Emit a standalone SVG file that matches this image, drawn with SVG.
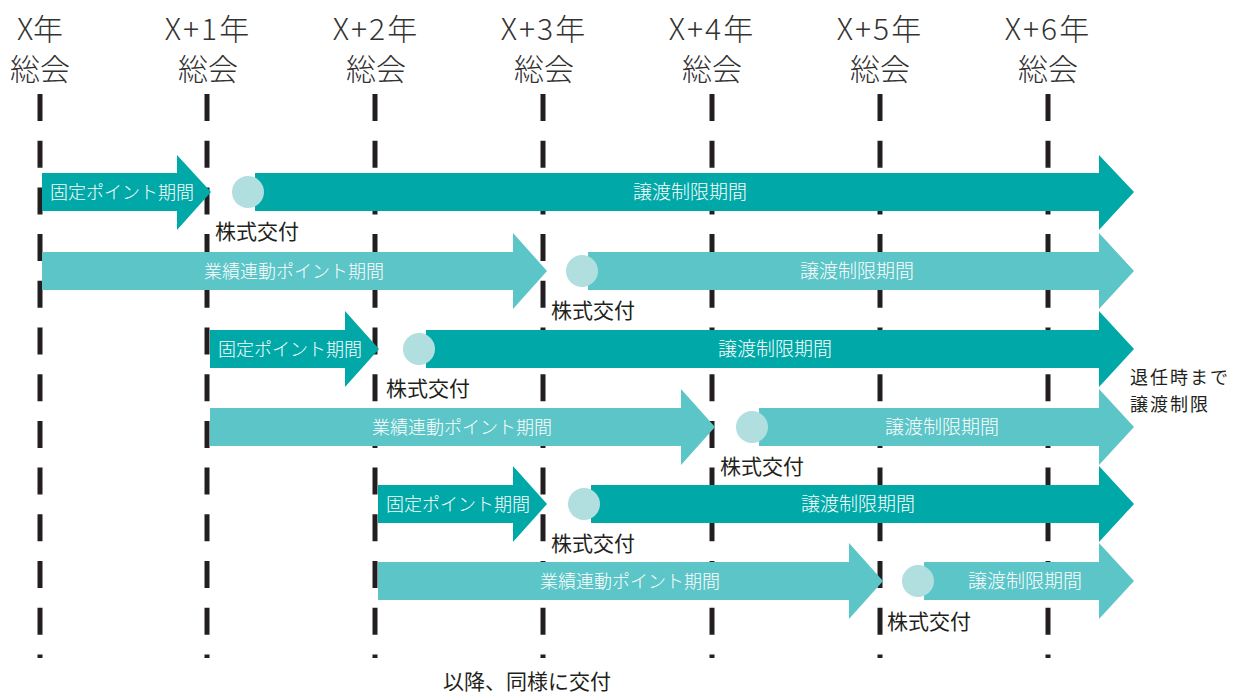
<svg xmlns="http://www.w3.org/2000/svg" width="1240" height="693" viewBox="0 0 1240 693">
<style>
text{font-family:"Noto Sans CJK JP","Noto Sans",sans-serif;font-weight:300;}
.hdr{font-size:30px;fill:#333;text-anchor:middle;}
.grid{stroke:#231f20;stroke-width:5;stroke-dasharray:27 19.7;fill:none;}
.dark{fill:#00a9a8;}
.light{fill:#5bc5c7;}
.dot{fill:#b1dedf;}
.in{font-size:18px;fill:#fff;}
.rs{font-size:19px;fill:#fff;text-anchor:middle;}
.lbl{font-size:21px;fill:#231f20;font-weight:400;}
.note{font-size:18px;fill:#231f20;letter-spacing:2px;font-weight:400;}
</style>
<rect width="1240" height="693" fill="#fff"/>
<g id="headers">
<text class="hdr" x="40" y="40">X年</text><text class="hdr" x="40" y="80">総会</text>
<text class="hdr" x="208" y="40" letter-spacing="2">X+1年</text><text class="hdr" x="208" y="80">総会</text>
<text class="hdr" x="376" y="40" letter-spacing="2">X+2年</text><text class="hdr" x="376" y="80">総会</text>
<text class="hdr" x="544" y="40" letter-spacing="2">X+3年</text><text class="hdr" x="544" y="80">総会</text>
<text class="hdr" x="712" y="40" letter-spacing="2">X+4年</text><text class="hdr" x="712" y="80">総会</text>
<text class="hdr" x="880" y="40" letter-spacing="2">X+5年</text><text class="hdr" x="880" y="80">総会</text>
<text class="hdr" x="1048" y="40" letter-spacing="2">X+6年</text><text class="hdr" x="1048" y="80">総会</text>
</g>
<g id="connectors">
<line class="grid" x1="40" y1="94" x2="40" y2="658"/>
<line class="grid" x1="207" y1="94" x2="207" y2="658"/>
<line class="grid" x1="375" y1="94" x2="375" y2="658"/>
<line class="grid" x1="543" y1="94" x2="543" y2="658"/>
<line class="grid" x1="712" y1="94" x2="712" y2="658"/>
<line class="grid" x1="880" y1="94" x2="880" y2="658"/>
<line class="grid" x1="1048" y1="94" x2="1048" y2="658"/>
</g>
<g id="row1">
<polygon class="dark" points="42,173 177,173 177,155 211,192 177,230 177,211 42,211"/>
<text class="in" x="50" y="199">固定ポイント期間</text>
<polygon class="dark" points="255,173 1099,173 1099,155 1134,192 1099,230 1099,211 255,211"/>
<circle class="dot" cx="248" cy="192" r="16"/>
<text class="rs" x="690" y="199">譲渡制限期間</text>
<text class="lbl" x="215" y="239">株式交付</text>
</g>
<g id="row2">
<polygon class="light" points="42,252 513,252 513,233 547,271 513,309 513,290 42,290"/>
<text class="in" x="294" y="278" text-anchor="middle">業績連動ポイント期間</text>
<polygon class="light" points="588,252 1099,252 1099,233 1134,271 1099,309 1099,290 588,290"/>
<circle class="dot" cx="582" cy="271" r="16"/>
<text class="rs" x="857" y="278">譲渡制限期間</text>
<text class="lbl" x="551" y="318">株式交付</text>
</g>
<g id="row3">
<polygon class="dark" points="210,330 345,330 345,311 379,349 345,387 345,368 210,368"/>
<text class="in" x="218" y="356">固定ポイント期間</text>
<polygon class="dark" points="426,330 1099,330 1099,311 1134,349 1099,387 1099,368 426,368"/>
<circle class="dot" cx="419" cy="349" r="16"/>
<text class="rs" x="775" y="356">譲渡制限期間</text>
<text class="lbl" x="386" y="396">株式交付</text>
</g>
<g id="row4">
<polygon class="light" points="210,408 681,408 681,389 715,427 681,465 681,446 210,446"/>
<text class="in" x="462" y="434" text-anchor="middle">業績連動ポイント期間</text>
<polygon class="light" points="759,408 1099,408 1099,389 1134,427 1099,465 1099,446 759,446"/>
<circle class="dot" cx="752" cy="427" r="16"/>
<text class="rs" x="942" y="434">譲渡制限期間</text>
<text class="lbl" x="720" y="474">株式交付</text>
</g>
<g id="row5">
<polygon class="dark" points="378,485 513,485 513,466 547,504 513,542 513,523 378,523"/>
<text class="in" x="386" y="511">固定ポイント期間</text>
<polygon class="dark" points="591,485 1099,485 1099,466 1134,504 1099,542 1099,523 591,523"/>
<circle class="dot" cx="584" cy="504" r="16"/>
<text class="rs" x="858" y="511">譲渡制限期間</text>
<text class="lbl" x="551" y="551">株式交付</text>
</g>
<g id="row6">
<polygon class="light" points="378,562 849,562 849,543 883,581 849,619 849,600 378,600"/>
<text class="in" x="630" y="588" text-anchor="middle">業績連動ポイント期間</text>
<polygon class="light" points="924,562 1099,562 1099,543 1134,581 1099,619 1099,600 924,600"/>
<circle class="dot" cx="918" cy="581" r="16"/>
<text class="rs" x="1025" y="588">譲渡制限期間</text>
<text class="lbl" x="887" y="629">株式交付</text>
</g>
<g id="note-retire">
<text class="note" x="1130" y="384">退任時まで</text>
<text class="note" x="1130" y="411">譲渡制限</text>
</g>
<g id="note-bottom">
<text class="lbl" x="527" y="689" text-anchor="middle">以降、同様に交付</text>
</g>
</svg>
